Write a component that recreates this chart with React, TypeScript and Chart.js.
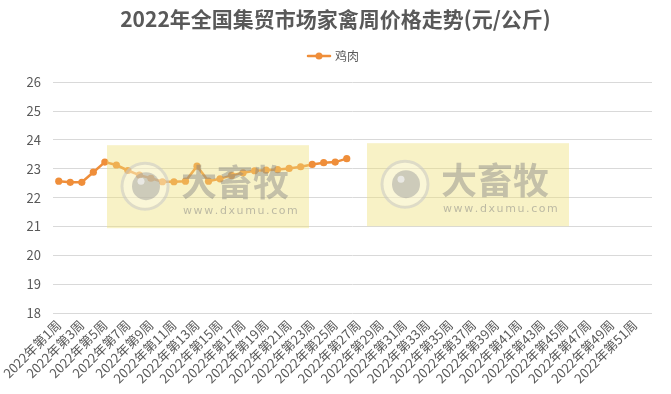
import React, { useEffect, useRef } from "react";
import { Chart, registerables } from "chart.js";

Chart.register(...registerables);

const weekLabels: string[] = Array.from({ length: 52 }, (_, i) => `2022年第${i + 1}周`);
const chickenValues: number[] = [
  22.57, 22.53, 22.53, 22.88, 23.23, 23.13, 22.94, 22.78, 22.67, 22.55,
  22.55, 22.57, 23.09, 22.57, 22.65, 22.77, 22.86, 22.93, 22.95, 22.97,
  23.01, 23.07, 23.15, 23.21, 23.23, 23.35,
];
const yTicks = { min: 18, max: 26, step: 1 };
const titleText = "2022年全国集贸市场家禽周价格走势(元/公斤)";
const seriesName = "鸡肉";

const ORANGE = "#EF8E3A";
const TEXT = "#595959";
const FONT = "'Noto Sans CJK SC', 'Noto Sans', sans-serif";

const legendPlugin = {
  id: "customLegend",
  afterDraw(chart: any) {
    const ctx = chart.ctx;
    ctx.save();
    ctx.font = `12px ${FONT}`;
    const tw = ctx.measureText(seriesName).width;
    const lineW = 22;
    const gap = 5;
    const total = lineW + gap + tw;
    const x0 = chart.width / 2 - total / 2 - 2;
    const y = 56;
    ctx.strokeStyle = ORANGE;
    ctx.lineWidth = 2.5;
    ctx.lineCap = "round";
    ctx.beginPath();
    ctx.moveTo(x0, y);
    ctx.lineTo(x0 + lineW, y);
    ctx.stroke();
    ctx.fillStyle = ORANGE;
    ctx.beginPath();
    ctx.arc(x0 + lineW / 2, y, 3.5, 0, Math.PI * 2);
    ctx.fill();
    ctx.fillStyle = TEXT;
    ctx.textBaseline = "middle";
    ctx.textAlign = "left";
    ctx.fillText(seriesName, x0 + lineW + gap, y);
    ctx.restore();
  },
};

const watermarkPlugin = {
  id: "watermark",
  afterDatasetsDraw(chart: any) {
    const ctx = chart.ctx;
    const a = chart.chartArea;
    const boxes = [
      { x: a.left + 54, y: a.top + 63 },
      { x: a.left + 314, y: a.top + 61 },
    ];
    const w = 202;
    const h = 83;
    ctx.save();
    for (const b of boxes) {
      ctx.fillStyle = "rgba(238, 224, 120, 0.42)";
      ctx.fillRect(b.x, b.y, w, h);
      const cx = b.x + 38;
      const cy = b.y + 41;
      ctx.strokeStyle = "rgba(200, 200, 200, 0.55)";
      ctx.lineWidth = 3;
      ctx.beginPath();
      ctx.arc(cx, cy, 23, 0, Math.PI * 2);
      ctx.stroke();
      ctx.fillStyle = "rgba(255, 255, 255, 0.3)";
      ctx.beginPath();
      ctx.arc(cx, cy, 21.5, 0, Math.PI * 2);
      ctx.fill();
      ctx.fillStyle = "rgba(150, 150, 150, 0.45)";
      ctx.beginPath();
      ctx.arc(cx + 1, cy, 14, 0, Math.PI * 2);
      ctx.fill();
      ctx.fillStyle = "rgba(245, 245, 245, 0.7)";
      ctx.beginPath();
      ctx.arc(cx - 4, cy - 5, 3.5, 0, Math.PI * 2);
      ctx.fill();
      ctx.fillStyle = "rgba(130, 130, 130, 0.45)";
      ctx.font = `bold 36px ${FONT}`;
      ctx.textBaseline = "middle";
      ctx.textAlign = "left";
      ctx.fillText("大畜牧", b.x + 74, b.y + 37);
      ctx.font = `11px 'DejaVu Sans', sans-serif`;
      ctx.fillStyle = "rgba(130, 130, 130, 0.5)";
      const url = "www.dxumu.com";
      let x = b.x + 76;
      for (const ch of url) {
        ctx.fillText(ch, x, b.y + 66);
        x += ctx.measureText(ch).width + 1.6;
      }
    }
    ctx.restore();
  },
};

export default function App() {
  const ref = useRef<HTMLCanvasElement | null>(null);
  useEffect(() => {
    if (!ref.current) return;
    const chart = new Chart(ref.current, {
      type: "line",
      data: {
        labels: weekLabels,
        datasets: [
          {
            label: seriesName,
            data: weekLabels.map((_, i) => (i < chickenValues.length ? chickenValues[i] : null)),
            borderColor: ORANGE,
            backgroundColor: ORANGE,
            borderWidth: 2.5,
            pointRadius: 3.6,
            pointBorderWidth: 0,
            pointBackgroundColor: ORANGE,
            tension: 0,
            spanGaps: false,
            yAxisID: "y",
          },
        ],
      },
      options: {
        responsive: false,
        animation: false,
        layout: { padding: { left: 0, right: 0, top: 0, bottom: 0 } },
        plugins: {
          legend: { display: false },
          tooltip: { enabled: false },
          title: {
            display: true,
            text: titleText,
            color: TEXT,
            font: { family: FONT, size: 21, weight: "bold" },
            padding: { top: 6, bottom: 51 },
          },
        },
        scales: {
          x: {
            offset: true,
            grid: { display: false, drawTicks: false },
            border: { display: false },
            ticks: {
              autoSkip: false,
              maxRotation: 45,
              minRotation: 45,
              padding: 4,
              color: TEXT,
              font: { family: FONT, size: 13 },
              callback: (_v: any, i: number) => (i % 2 === 0 ? weekLabels[i] : ""),
            },
            afterFit: (s: any) => {
              s.height = 81;
            },
          },
          y: {
            min: yTicks.min,
            max: yTicks.max,
            ticks: { stepSize: yTicks.step, padding: 12, color: TEXT, font: { family: FONT, size: 13 } },
            grid: { color: "#d9d9d9", lineWidth: 1, drawTicks: false },
            border: { display: false },
            afterFit: (s: any) => {
              s.width = 53;
            },
          },
          yRight: {
            position: "right",
            display: true,
            min: yTicks.min,
            max: yTicks.max,
            ticks: { display: false },
            grid: { display: false, drawTicks: false },
            border: { display: false },
            afterFit: (s: any) => {
              s.width = 19;
            },
          },
        },
      },
      plugins: [legendPlugin, watermarkPlugin],
    });
    return () => chart.destroy();
  }, []);
  return (
    <div style={{ position: "absolute", left: 0, top: 0, width: 671, height: 394, background: "#fff" }}>
      <canvas ref={ref} width={671} height={394} style={{ width: 671, height: 394 }} />
    </div>
  );
}
